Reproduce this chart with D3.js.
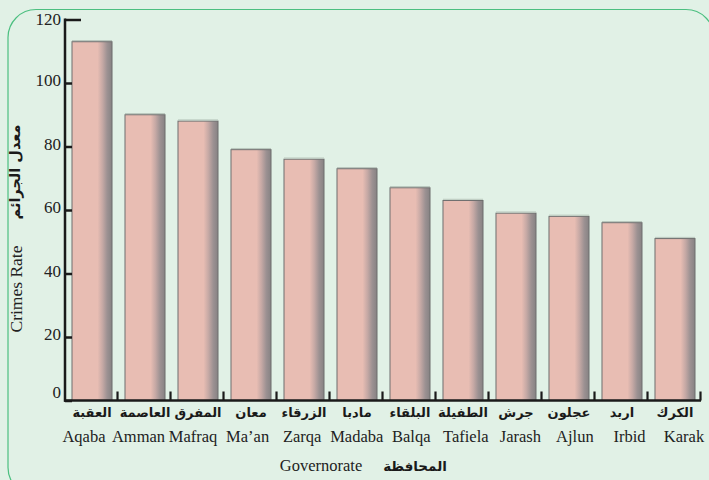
<!DOCTYPE html>
<meta charset="utf-8">
<script src="https://d3js.org/d3.v7.min.js"></script>
<style>
  body { margin: 0; background: #e1f1e6; }
</style>
<div id="chart"></div>
<script>

    var width = 709,
        height = 480

    // data
    var namesAr = ["العقبة", "العاصمة", "المفرق", "معان", "الزرقاء", "مادبا", "البلقاء", "الطفيلة", "جرش", "عجلون", "اربد", "الكرك"]
    var namesEn = ["Aqaba", "Amman", "Mafraq", "Ma\u2019an", "Zarqa", "Madaba", "Balqa", "Tafiela", "Jarash", "Ajlun", "Irbid", "Karak"]
    var rates = [113, 90, 88, 79, 76, 73, 67, 63, 59, 58, 56, 51]
    var yTicks = [0, 20, 40, 60, 80, 100, 120]

    var serif = "'Liberation Serif', 'DejaVu Serif', serif"
    var arabic = "'DejaVu Sans', sans-serif"

    var svg = d3.select("#chart")
      .append("svg")
        .attr("width", width)
        .attr("height", height)
        .style("display", "block")

    var defs = svg.append("defs")
    var grad = defs.append("linearGradient")
        .attr("id", "barGrad")
        .attr("x1", "0%").attr("x2", "100%")
        .attr("y1", "0%").attr("y2", "0%")
    grad.append("stop").attr("offset", "0%").attr("stop-color", "#e8bdb3")
    grad.append("stop").attr("offset", "64%").attr("stop-color", "#e8bdb3")
    grad.append("stop").attr("offset", "76%").attr("stop-color", "#c6a9a5")
    grad.append("stop").attr("offset", "88%").attr("stop-color", "#9c9192")
    grad.append("stop").attr("offset", "100%").attr("stop-color", "#868283")

    // frame
    svg.append("rect")
        .attr("x", 8)
        .attr("y", 9.5)
        .attr("width", 706)
        .attr("height", 486)
        .attr("rx", 28)
        .attr("fill", "#e1f1e6")
        .attr("stroke", "#4cbf80")
        .attr("stroke-width", 1.2)

    var x = d3.scaleBand()
      .domain(namesEn)
      .range([72, 695])
      .paddingInner(0.245)
      .paddingOuter(0)

    var xEn = d3.scalePoint()
      .domain(namesEn)
      .range([84, 684])

    var y = d3.scaleLinear()
      .domain([0, 120])
      .range([400.5, 19.5])

    // bars
    svg.selectAll("rect.bar")
      .data(rates)
      .enter()
      .append("rect")
        .attr("class", "bar")
        .attr("x", function(d, i){ return x(namesEn[i]) })
        .attr("y", function(d){ return y(d) })
        .attr("width", x.bandwidth())
        .attr("height", function(d){ return y(0) - y(d) })
        .attr("fill", "url(#barGrad)")
        .attr("stroke", "#6e6e6e")
        .attr("stroke-width", 1)

    // light line above each bar top
    svg.selectAll("line.topline")
      .data(rates)
      .enter()
      .append("line")
        .attr("x1", function(d, i){ return x(namesEn[i]) })
        .attr("x2", function(d, i){ return x(namesEn[i]) + x.bandwidth() })
        .attr("y1", function(d){ return y(d) - 1.2 })
        .attr("y2", function(d){ return y(d) - 1.2 })
        .attr("stroke", "#b9c7bd")
        .attr("stroke-width", 1)

    // y axis
    var yAxis = svg.append("g")
        .attr("transform", "translate(65,0)")
        .call(d3.axisLeft(y).tickValues(yTicks).tickSize(-7).tickPadding(4))

    yAxis.select(".domain").remove()
    yAxis.append("line")
        .attr("x1", 0).attr("x2", 0)
        .attr("y1", y(120) - 1).attr("y2", y(0) + 1.2)
        .attr("stroke", "#1a1a1a")
        .attr("stroke-width", 2.5)
    yAxis.selectAll(".tick line")
        .attr("stroke", "#1a1a1a")
        .attr("stroke-width", 2.5)
    yAxis.selectAll(".tick")
        .filter(function(d){ return d === 120 })
        .select("line")
        .attr("x2", 16)
    yAxis.selectAll(".tick text")
        .attr("x", -4)
        .attr("dy", function(d){ return d === 0 ? "-0.2em" : (d === 120 ? "0.32em" : "0.15em") })
        .style("font-family", serif)
        .style("font-size", "17px")
        .attr("fill", "#222")

    // x baseline
    svg.append("line")
        .attr("x1", 64)
        .attr("x2", 701)
        .attr("y1", y(0))
        .attr("y2", y(0))
        .attr("stroke", "#1a1a1a")
        .attr("stroke-width", 2.5)

    // small ticks after each bar
    svg.selectAll("line.xtick")
      .data(namesEn)
      .enter()
      .append("line")
        .attr("x1", function(d){ return x(d) + x.bandwidth() + 5.5 })
        .attr("x2", function(d){ return x(d) + x.bandwidth() + 5.5 })
        .attr("y1", y(0) - 9)
        .attr("y2", y(0))
        .attr("stroke", "#1a1a1a")
        .attr("stroke-width", 2.2)

    // arabic category labels
    svg.selectAll("text.ar")
      .data(namesAr)
      .enter()
      .append("text")
        .attr("x", function(d, i){ return x(namesEn[i]) + x.bandwidth() / 2 })
        .attr("y", 417)
        .attr("text-anchor", "middle")
        .attr("direction", "rtl")
        .style("font-family", arabic)
        .style("font-weight", "bold")
        .style("font-size", "13px")
        .attr("fill", "#1a1a1a")
        .text(function(d){ return d })

    // english category labels
    svg.selectAll("text.en")
      .data(namesEn)
      .enter()
      .append("text")
        .attr("x", function(d){ return xEn(d) })
        .attr("y", 442)
        .attr("text-anchor", "middle")
        .style("font-family", serif)
        .style("font-size", "16.5px")
        .attr("fill", "#222")
        .text(function(d){ return d })

    // x title
    svg.append("text")
        .attr("x", 321)
        .attr("y", 471)
        .attr("text-anchor", "middle")
        .style("font-family", serif)
        .style("font-size", "16.5px")
        .attr("fill", "#222")
        .text("Governorate")
    svg.append("text")
        .attr("x", 415)
        .attr("y", 471)
        .attr("text-anchor", "middle")
        .attr("direction", "rtl")
        .style("font-family", arabic)
        .style("font-weight", "bold")
        .style("font-size", "13.5px")
        .attr("fill", "#1a1a1a")
        .text("المحافظة")

    // y titles
    svg.append("text")
        .attr("transform", "translate(22,289) rotate(-90)")
        .attr("text-anchor", "middle")
        .style("font-family", serif)
        .style("font-size", "17.5px")
        .attr("fill", "#222")
        .text("Crimes Rate")
    svg.append("text")
        .attr("transform", "translate(20,172) rotate(-90)")
        .attr("text-anchor", "middle")
        .attr("direction", "rtl")
        .style("font-family", arabic)
        .style("font-weight", "bold")
        .style("font-size", "14.5px")
        .attr("fill", "#1a1a1a")
        .text("معدل الجرائم")

</script>
